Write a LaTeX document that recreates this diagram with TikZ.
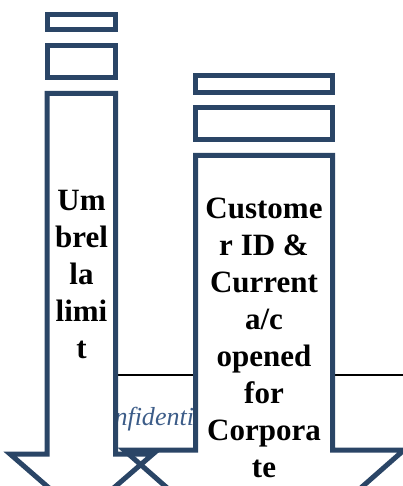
\documentclass[tikz,border=0pt]{standalone}
\usepackage{fontspec}
\setmainfont{Liberation Serif}
\definecolor{arrowblue}{HTML}{2A4566}
\definecolor{confblue}{HTML}{3C5C88}
\begin{document}
\begin{tikzpicture}[x=1pt,y=-1pt,
  outline/.style={draw=arrowblue, line width=5pt},
  bodyfill/.style={fill=white},
  label/.style={font=\bfseries\fontsize{31}{37}\selectfont, align=center, inner sep=0pt, anchor=base}]
\useasboundingbox (0,0) rectangle (403,486);
\begin{scope}
\clip (0,0) rectangle (403,486);
% footer line and watermark text behind the arrows
\draw[line width=2pt] (80,375) -- (403,375);
\node[text=confblue, font=\itshape\fontsize{26}{30}\selectfont, anchor=base west, inner sep=0pt] (conf) at (84,425) {Confidential};
% fills
\path[bodyfill] (47,93.5) -- (115.5,93.5) -- (115.5,454) -- (153,454) -- (81.25,516) -- (10,454) -- (47,454) -- cycle;
\path[bodyfill] (195.5,155.5) -- (332.5,155.5) -- (332.5,450) -- (404,450) -- (264,573) -- (124,450) -- (195.5,450) -- cycle;
% outlines
\draw[outline] (47,93.5) -- (115.5,93.5) -- (115.5,454) -- (153,454) -- (81.25,516) -- (10,454) -- (47,454) -- cycle;
\draw[outline] (195.5,155.5) -- (332.5,155.5) -- (332.5,450) -- (404,450) -- (264,573) -- (124,450) -- (195.5,450) -- cycle;
% stacked rectangles
\draw[outline] (47.5,14.5) rectangle (115.5,29.5);
\draw[outline] (47.5,45.5) rectangle (115.5,77.5);
\draw[outline] (195.5,75.5) rectangle (332.5,92.5);
\draw[outline] (195.5,107.5) rectangle (332.5,139.5);
% labels
\node[label] (umbrella) at (81.5,358) {Um\\brel\\la\\limi\\t};
\node[label] (customer) at (264,477) {Custome\\r ID \&\\Current\\a/c\\opened\\for\\Corpora\\te};
\end{scope}
\end{tikzpicture}
\end{document}
